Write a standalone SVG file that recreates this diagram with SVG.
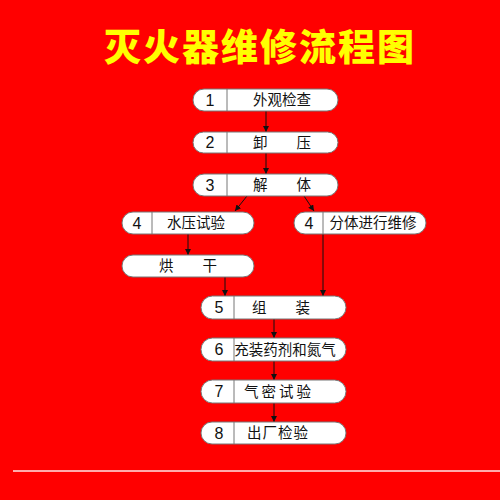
<svg xmlns="http://www.w3.org/2000/svg" width="500" height="500" viewBox="0 0 500 500">
<defs>
<style>
.box{fill:#fff;stroke:#777;stroke-width:1}
.div{stroke:#777;stroke-width:1}
.t{font-family:"Liberation Sans","Noto Sans CJK SC",sans-serif;font-size:14.5px;fill:#111;text-anchor:middle;dominant-baseline:central}
.n{font-family:"Liberation Sans",sans-serif;font-size:16px;fill:#111;text-anchor:middle;dominant-baseline:central}
.c{stroke:#111;stroke-width:1;fill:none}
.a{stroke:#111;stroke-width:1;fill:none;marker-end:url(#ah)}
.title{font-family:"Noto Sans CJK SC",sans-serif;font-weight:900;font-size:37px;fill:#ffff00;text-anchor:middle;dominant-baseline:central;letter-spacing:2px}
</style>
<marker id="ah" viewBox="0 0 10 10" refX="10" refY="5" markerWidth="6" markerHeight="6" orient="auto" markerUnits="userSpaceOnUse">
<path d="M0,0 L10,5 L0,10 z" fill="#111"/>
</marker>
</defs>
<rect width="500" height="500" fill="#ff0000"/>
<text class="title" x="260" y="45">灭火器维修流程图</text>
<g id="connectors">
<line class="a" x1="266" y1="111" x2="266" y2="132"/>
<line class="a" x1="266" y1="153" x2="266" y2="174"/>
<line class="a" x1="247" y1="196" x2="235" y2="211"/>
<line class="a" x1="304" y1="196" x2="314" y2="211"/>
<line class="a" x1="188" y1="234" x2="188" y2="255"/>
<line class="a" x1="225" y1="277" x2="225" y2="296"/>
<line class="a" x1="323" y1="234" x2="323" y2="296"/>
<line class="a" x1="274" y1="319" x2="274" y2="338"/>
<line class="a" x1="274" y1="361" x2="274" y2="380"/>
<line class="a" x1="274" y1="403" x2="274" y2="422"/>
</g>
<g id="n1">
<rect class="box" x="193" y="89" width="145" height="22" rx="11"/>
<line class="div" x1="227" y1="89" x2="227" y2="111"/>
<text class="n" x="210" y="100">1</text>
<text class="t" x="282" y="100">外观检查</text>
</g>
<g id="n2">
<rect class="box" x="193" y="132" width="145" height="21" rx="10.5"/>
<line class="div" x1="227" y1="132" x2="227" y2="153"/>
<text class="n" x="210" y="142.5">2</text>
<text class="t" x="282" y="142.5">卸　　压</text>
</g>
<g id="n3">
<rect class="box" x="193" y="174" width="145" height="22" rx="11"/>
<line class="div" x1="227" y1="174" x2="227" y2="196"/>
<text class="n" x="210" y="185">3</text>
<text class="t" x="282" y="185">解　　体</text>
</g>
<g id="n4a">
<rect class="box" x="122" y="212" width="132" height="22" rx="11"/>
<line class="div" x1="152" y1="212" x2="152" y2="234"/>
<text class="n" x="137" y="223">4</text>
<text class="t" x="196" y="223">水压试验</text>
</g>
<g id="n4b">
<rect class="box" x="294" y="212" width="132" height="22" rx="11"/>
<line class="div" x1="323" y1="212" x2="323" y2="234"/>
<text class="n" x="309" y="223">4</text>
<text class="t" x="373" y="223">分体进行维修</text>
</g>
<g id="n4c">
<rect class="box" x="122" y="255" width="132" height="22" rx="11"/>
<text class="t" x="188" y="266">烘　　干</text>
</g>
<g id="n5">
<rect class="box" x="201" y="296" width="145" height="23" rx="11.5"/>
<line class="div" x1="234" y1="296" x2="234" y2="319"/>
<text class="n" x="219" y="307.5">5</text>
<text class="t" x="281" y="307.5">组　　装</text>
</g>
<g id="n6">
<rect class="box" x="201" y="338" width="145" height="23" rx="11.5"/>
<line class="div" x1="234" y1="338" x2="234" y2="361"/>
<text class="n" x="219" y="349.5">6</text>
<text class="t" x="285" y="349.5">充装药剂和氮气</text>
</g>
<g id="n7">
<rect class="box" x="201" y="380" width="145" height="23" rx="11.5"/>
<line class="div" x1="234" y1="380" x2="234" y2="403"/>
<text class="n" x="219" y="391.5">7</text>
<text class="t" x="279" y="391.5" style="letter-spacing:3px">气密试验</text>
</g>
<g id="n8">
<rect class="box" x="201" y="422" width="145" height="22" rx="11"/>
<line class="div" x1="234" y1="422" x2="234" y2="444"/>
<text class="n" x="219" y="433">8</text>
<text class="t" x="278" y="433" style="letter-spacing:1px">出厂检验</text>
</g>
<line x1="13" y1="471" x2="500" y2="471" stroke="#ffe6e6" stroke-width="1.5"/>
</svg>
